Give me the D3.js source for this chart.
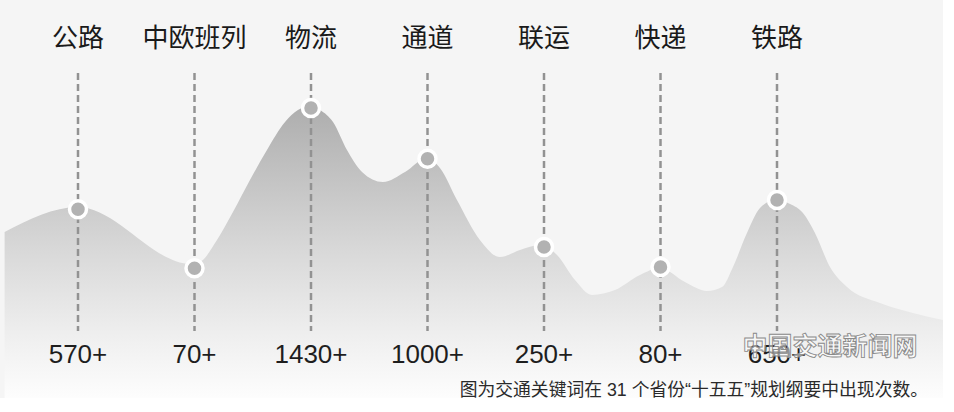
<!DOCTYPE html>
<html>
<head>
<meta charset="utf-8">
<script src="https://cdn.jsdelivr.net/npm/d3@7"></script>
<style>
  html, body { margin: 0; padding: 0; background: #ffffff; }
  svg { display: block; }
</style>
</head>
<body>
<svg id="chart" width="954" height="412"></svg>
<script>
// ---- data ----
const categories = ["公路", "中欧班列", "物流", "通道", "联运", "快递", "铁路"];
const values = [570, 70, 1430, 1000, 250, 80, 650];
const valueLabels = ["570+", "70+", "1430+", "1000+", "250+", "80+", "650+"];
// decorative ridge silhouette: position in category-index units, height in count units
const ridgePos = [-0.63, 0, 0.97, 1.047, 1.193, 1.33, 1.476, 1.622, 1.777, 1.888, 1.983, 2.077, 2.189, 2.309, 2.438, 2.618, 2.807, 2.996, 3.107, 3.253, 3.45, 3.622, 3.794, 3.966, 4.112, 4.266, 4.412, 4.609, 4.824, 4.996, 5.21, 5.399, 5.528, 5.622, 5.742, 5.854, 5.983, 6.112, 6.223, 6.326, 6.455, 6.601, 6.884, 7.167, 7.425];
const ridgeVal = [378, 590, 106, 123, 310, 547, 819, 1074, 1311, 1413, 1447, 1413, 1311, 1074, 887, 802, 887, 1006, 921, 649, 310, 165, 225, 267, 182, -30, -157, -115, 13, 72, -47, -123, -89, 81, 369, 581, 649, 615, 539, 369, 81, -89, -225, -310, -369];
const caption = "图为交通关键词在 31 个省份“十五五”规划纲要中出现次数。";
const watermark = "中国交通新闻网";

// ---- layout ----
const svg = d3.select("#chart");
const panelW = 943, panelH = 398;

const x = d3.scalePoint().domain(categories).range([78, 777]);
const xi = d3.scaleLinear().domain([0, categories.length - 1]).range(x.range());
const y = d3.scaleLinear().domain([0, 1430]).range([276.5, 108]);

// panel background
svg.append("rect").attr("x", 0).attr("y", 0).attr("width", panelW).attr("height", panelH).attr("fill", "#f5f5f5");

// gradient
const defs = svg.append("defs");
const grad = defs.append("linearGradient").attr("id", "mtn")
  .attr("gradientUnits", "userSpaceOnUse").attr("x1", 0).attr("x2", 0).attr("y1", 100).attr("y2", panelH);
[[0, "#acacac"], [0.5, "#d8d8d8"], [0.78, "#eeeeee"], [1, "#fdfdfd"]].forEach(([o, c]) =>
  grad.append("stop").attr("offset", o).attr("stop-color", c));

const ridge = ridgePos.map((p, i) => ({ p, v: ridgeVal[i] }));
const area = d3.area()
  .x(d => xi(d.p))
  .y0(panelH)
  .y1(d => y(d.v))
  .curve(d3.curveMonotoneX);
svg.append("path").datum(ridge).attr("d", area).attr("fill", "url(#mtn)");

// dashed guide lines
svg.append("g").selectAll("line").data(categories).join("line")
  .attr("x1", d => x(d)).attr("x2", d => x(d))
  .attr("y1", 73).attr("y2", 331)
  .attr("stroke", "#929292").attr("stroke-width", 2.5)
  .attr("stroke-dasharray", "7,4");

// points
svg.append("g").selectAll("circle").data(values).join("circle")
  .attr("cx", (d, i) => x(categories[i]))
  .attr("cy", d => y(d))
  .attr("r", 8.5)
  .attr("fill", "#b2b2b2")
  .attr("stroke", "#ffffff").attr("stroke-width", 3.5);

// category labels
svg.append("g").selectAll("text").data(categories).join("text")
  .attr("x", d => x(d)).attr("y", 47)
  .attr("text-anchor", "middle")
  .attr("font-family", "'Noto Sans CJK SC', sans-serif")
  .attr("font-weight", 400)
  .attr("font-size", 26)
  .attr("fill", "#1a1a1a")
  .text(d => d);

// value labels
svg.append("g").selectAll("text").data(valueLabels).join("text")
  .attr("x", (d, i) => x(categories[i])).attr("y", 363)
  .attr("text-anchor", "middle")
  .attr("font-family", "'Liberation Sans', Arial, sans-serif")
  .attr("font-size", 26)
  .attr("fill", "#1e1e1e")
  .text(d => d);

// watermark
svg.append("text")
  .attr("x", 830).attr("y", 355)
  .attr("text-anchor", "middle")
  .attr("font-family", "'Noto Sans CJK SC', sans-serif")
  .attr("font-weight", "bold")
  .attr("font-size", 25)
  .attr("fill", "#ffffff").attr("fill-opacity", 0.55)
  .attr("stroke", "#8a8a8a").attr("stroke-width", 0.9)
  .text(watermark);

// caption
svg.append("text")
  .attr("x", 928).attr("y", 396)
  .attr("text-anchor", "end")
  .attr("font-family", "'Liberation Sans', 'Noto Sans CJK SC', sans-serif")
  .attr("font-size", 17.8)
  .attr("fill", "#2a2a2a")
  .text(caption);
</script>
</body>
</html>
